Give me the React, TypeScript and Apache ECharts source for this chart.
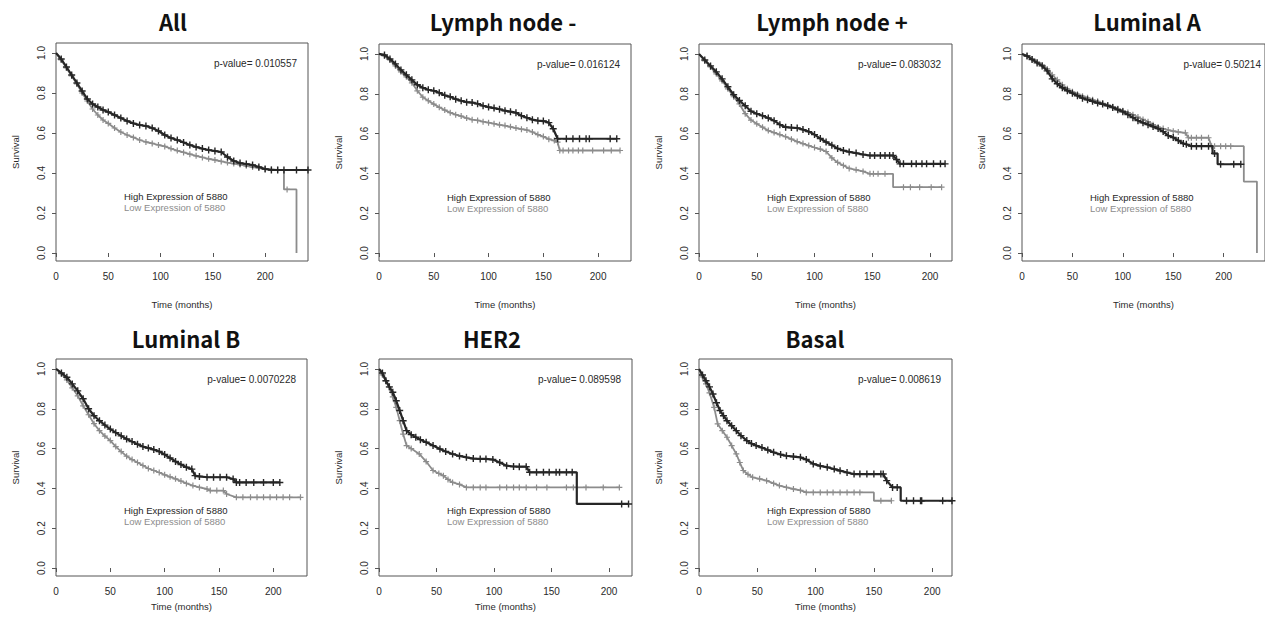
import React, { useEffect, useRef } from "react";
import * as echarts from "echarts";

// ---------- data (time in months, survival probability) ----------
const titles = ["All", "Lymph node -", "Lymph node +", "Luminal A", "Luminal B", "HER2", "Basal"];
const pValues = ["0.010557", "0.016124", "0.083032", "0.50214", "0.0070228", "0.089598", "0.008619"];
const legendHigh = "High Expression of 5880";
const legendLow = "Low Expression of 5880";
const xTicks = [0, 50, 100, 150, 200];
const yTicks = [0, 0.2, 0.4, 0.6, 0.8, 1.0];

const allHigh = [[0,1],[5,0.97],[10,0.93],[15,0.89],[20,0.85],[25,0.81],[30,0.77],[35,0.745],[40,0.73],[45,0.715],[50,0.705],[56,0.69],[62,0.675],[68,0.66],[74,0.648],[80,0.64],[86,0.635],[92,0.625],[98,0.61],[104,0.59],[110,0.575],[116,0.565],[122,0.553],[128,0.54],[134,0.53],[140,0.522],[146,0.515],[152,0.51],[158,0.505],[164,0.48],[170,0.46],[176,0.45],[182,0.445],[188,0.44],[194,0.43],[200,0.42],[206,0.415],[212,0.415],[218,0.415],[230,0.415],[241,0.415]];
const allLow = [[0,1],[5,0.965],[10,0.925],[15,0.885],[20,0.845],[25,0.8],[30,0.76],[35,0.72],[40,0.69],[45,0.665],[50,0.648],[56,0.625],[62,0.605],[68,0.59],[74,0.578],[80,0.565],[86,0.555],[92,0.548],[98,0.54],[104,0.533],[110,0.522],[116,0.512],[122,0.503],[128,0.494],[134,0.486],[140,0.478],[146,0.471],[152,0.465],[158,0.458],[164,0.452],[170,0.447],[176,0.442],[182,0.436],[188,0.43],[194,0.425],[200,0.42],[206,0.418],[212,0.416],[218,0.415],[218,0.318],[221,0.318],[230,0.318],[230,0]];

const lnNegHigh = [[0,1],[5,0.995],[10,0.975],[15,0.95],[20,0.92],[25,0.895],[30,0.87],[35,0.845],[40,0.83],[45,0.82],[50,0.815],[55,0.805],[60,0.792],[65,0.785],[70,0.773],[75,0.765],[80,0.758],[85,0.756],[90,0.75],[95,0.74],[100,0.733],[105,0.728],[110,0.722],[115,0.715],[120,0.71],[125,0.705],[130,0.69],[135,0.68],[140,0.67],[145,0.665],[150,0.663],[155,0.655],[159,0.624],[163,0.574],[171,0.574],[177,0.574],[183,0.574],[189,0.574],[192,0.574],[211,0.574],[217,0.574]];
const lnNegLow = [[0,1],[5,0.99],[10,0.97],[15,0.94],[20,0.91],[25,0.885],[30,0.855],[35,0.815],[40,0.783],[45,0.765],[50,0.748],[55,0.732],[60,0.718],[65,0.705],[70,0.695],[75,0.688],[80,0.678],[85,0.67],[90,0.666],[95,0.66],[100,0.655],[105,0.65],[110,0.644],[115,0.64],[120,0.634],[125,0.628],[130,0.622],[135,0.618],[140,0.608],[145,0.595],[150,0.585],[155,0.572],[160,0.565],[163,0.557],[165,0.515],[168,0.515],[173,0.515],[177,0.515],[182,0.515],[186,0.515],[195,0.515],[205,0.515],[212,0.515],[220,0.515]];

const lnPosHigh = [[0,1],[5,0.97],[10,0.94],[15,0.91],[20,0.875],[25,0.835],[30,0.795],[35,0.766],[40,0.74],[45,0.712],[50,0.7],[55,0.69],[60,0.678],[65,0.665],[70,0.645],[75,0.632],[80,0.63],[85,0.628],[90,0.62],[95,0.61],[100,0.595],[105,0.575],[110,0.558],[115,0.542],[120,0.525],[125,0.515],[130,0.508],[136,0.502],[142,0.495],[148,0.49],[152,0.49],[157,0.49],[161,0.49],[165,0.49],[168,0.49],[171,0.47],[174,0.448],[177,0.448],[184,0.448],[188,0.448],[193,0.448],[197,0.448],[203,0.448],[209,0.448],[213,0.448]];
const lnPosLow = [[0,1],[5,0.965],[10,0.935],[15,0.9],[20,0.865],[25,0.825],[30,0.785],[35,0.749],[40,0.7],[45,0.668],[50,0.649],[55,0.632],[60,0.615],[65,0.605],[70,0.595],[75,0.584],[80,0.572],[85,0.56],[90,0.55],[95,0.54],[100,0.53],[105,0.522],[110,0.51],[115,0.478],[120,0.455],[125,0.44],[130,0.425],[136,0.418],[142,0.41],[148,0.398],[151,0.398],[155,0.398],[161,0.398],[168,0.398],[168,0.331],[177,0.331],[183,0.331],[191,0.331],[201,0.331],[210,0.331]];

const lumAHigh = [[0,1],[5,0.99],[10,0.972],[15,0.955],[20,0.94],[25,0.915],[30,0.875],[35,0.85],[40,0.83],[45,0.815],[50,0.803],[55,0.79],[60,0.778],[65,0.77],[70,0.762],[75,0.754],[80,0.748],[85,0.74],[90,0.731],[95,0.72],[100,0.71],[105,0.695],[110,0.68],[115,0.665],[120,0.654],[125,0.645],[130,0.635],[135,0.625],[140,0.61],[145,0.59],[150,0.58],[155,0.565],[160,0.55],[163,0.546],[168,0.537],[173,0.537],[178,0.537],[185,0.537],[189,0.537],[189,0.5],[191,0.5],[194,0.5],[194,0.446],[197,0.446],[210,0.446],[217,0.446]];
const lumALow = [[0,1],[5,0.99],[10,0.975],[15,0.96],[20,0.945],[25,0.925],[30,0.895],[35,0.87],[40,0.845],[45,0.825],[50,0.81],[55,0.798],[60,0.788],[65,0.78],[70,0.77],[75,0.762],[80,0.752],[85,0.744],[90,0.735],[95,0.725],[100,0.715],[105,0.706],[110,0.695],[115,0.683],[120,0.671],[125,0.66],[130,0.645],[135,0.633],[140,0.625],[145,0.618],[150,0.612],[155,0.608],[162,0.604],[165,0.579],[168,0.579],[173,0.579],[178,0.579],[185,0.579],[188,0.537],[191,0.537],[197,0.537],[202,0.537],[207,0.537],[220,0.537],[220,0.359],[233,0.359],[233,0]];

const lumBHigh = [[0,1],[5,0.98],[10,0.958],[15,0.925],[20,0.89],[25,0.85],[30,0.8],[35,0.765],[40,0.74],[45,0.718],[50,0.698],[55,0.68],[60,0.664],[65,0.648],[70,0.635],[75,0.622],[80,0.61],[85,0.603],[90,0.595],[95,0.585],[100,0.57],[105,0.553],[110,0.535],[115,0.52],[120,0.506],[125,0.497],[128,0.464],[132,0.46],[139,0.456],[145,0.456],[151,0.456],[157,0.456],[163,0.447],[166,0.43],[169,0.43],[175,0.43],[182,0.43],[191,0.43],[200,0.43],[206,0.43]];
const lumBLow = [[0,1],[5,0.975],[10,0.945],[15,0.905],[20,0.865],[25,0.815],[30,0.77],[35,0.725],[40,0.69],[45,0.663],[50,0.64],[55,0.61],[60,0.585],[65,0.562],[70,0.545],[75,0.53],[80,0.515],[85,0.5],[90,0.49],[95,0.48],[100,0.468],[105,0.458],[110,0.448],[115,0.437],[120,0.425],[126,0.414],[132,0.405],[139,0.397],[142,0.389],[148,0.389],[154,0.389],[157,0.372],[166,0.355],[172,0.355],[179,0.355],[185,0.355],[191,0.355],[197,0.355],[203,0.355],[209,0.355],[215,0.355],[225,0.355]];

const her2High = [[0,1],[3,0.98],[6,0.941],[9,0.91],[12,0.883],[15,0.84],[18,0.791],[21,0.74],[24,0.69],[28,0.67],[32,0.657],[36,0.645],[41,0.632],[47,0.615],[53,0.598],[58,0.585],[64,0.573],[70,0.563],[76,0.556],[82,0.55],[88,0.548],[93,0.548],[99,0.545],[105,0.53],[111,0.514],[117,0.51],[122,0.509],[128,0.509],[131,0.481],[137,0.481],[143,0.481],[148,0.481],[154,0.481],[157,0.481],[163,0.481],[168,0.481],[172,0.481],[172,0.322],[211,0.322],[217,0.322]];
const her2Low = [[0,1],[3,0.97],[6,0.94],[9,0.908],[12,0.86],[15,0.807],[18,0.74],[21,0.673],[24,0.615],[28,0.6],[35,0.573],[41,0.535],[47,0.49],[52,0.475],[56,0.464],[60,0.445],[64,0.43],[70,0.42],[76,0.405],[82,0.405],[88,0.405],[93,0.405],[105,0.405],[111,0.405],[117,0.405],[122,0.405],[128,0.405],[137,0.405],[146,0.405],[163,0.405],[169,0.405],[180,0.405],[195,0.405],[209,0.405]];

const basalHigh = [[0,1],[3,0.97],[6,0.941],[9,0.91],[12,0.874],[15,0.83],[18,0.791],[21,0.765],[24,0.74],[28,0.715],[32,0.69],[36,0.665],[41,0.64],[45,0.625],[49,0.615],[54,0.605],[59,0.593],[64,0.581],[70,0.57],[75,0.564],[81,0.56],[87,0.556],[92,0.545],[98,0.523],[104,0.513],[110,0.506],[116,0.497],[121,0.489],[127,0.48],[133,0.472],[138,0.472],[144,0.472],[150,0.472],[156,0.472],[158,0.472],[161,0.439],[166,0.405],[170,0.405],[173,0.405],[173,0.338],[178,0.338],[184,0.338],[190,0.338],[191,0.338],[209,0.338],[217,0.338]];
const basalLow = [[0,1],[3,0.96],[6,0.925],[9,0.88],[13,0.807],[16,0.724],[20,0.69],[24,0.657],[28,0.615],[32,0.573],[35,0.53],[38,0.49],[42,0.47],[46,0.456],[52,0.448],[58,0.439],[64,0.425],[69,0.414],[75,0.405],[81,0.397],[87,0.39],[92,0.38],[98,0.38],[104,0.38],[110,0.38],[115,0.38],[121,0.38],[127,0.38],[133,0.38],[138,0.38],[150,0.38],[150,0.338],[156,0.338],[165,0.338]];

const highSeries = [allHigh, lnNegHigh, lnPosHigh, lumAHigh, lumBHigh, her2High, basalHigh];
const lowSeries = [allLow, lnNegLow, lnPosLow, lumALow, lumBLow, her2Low, basalLow];

// ---------- layout ----------
const PANELS = [
  { left: 56, top: 43, right: 308, bottom: 261, xMax: 241, tx: 173, ty: 21, gap: 38 },
  { left: 379, top: 44, right: 631, bottom: 261, xMax: 230, tx: 503, ty: 21, gap: 38 },
  { left: 699, top: 44, right: 952, bottom: 261, xMax: 219, tx: 832, ty: 21, gap: 38 },
  { left: 1022, top: 44, right: 1272, bottom: 261, xMax: 241, tx: 1147, ty: 21, gap: 38 },
  { left: 56, top: 359, right: 307, bottom: 576, xMax: 231, tx: 186, ty: 338, gap: 25 },
  { left: 379, top: 359, right: 632, bottom: 576, xMax: 220, tx: 492, ty: 338, gap: 25 },
  { left: 699, top: 359, right: 952, bottom: 576, xMax: 217, tx: 815, ty: 338, gap: 25 },
];

const DARK = "#262626";
const GREY = "#8c8c8c";
const TXT = "#2a2a2a";
const SANS = "'Liberation Sans', Arial, sans-serif";
const PLUS = "path://M0,5L10,5M5,0L5,10";

function toData(pts: number[][]) {
  return pts.map((p, i) => {
    const prev = pts[i - 1];
    const next = pts[i + 1];
    const hide = p[0] === 0 || (prev && prev[0] === p[0]) || (next && next[0] === p[0]);
    return hide ? { value: p, symbol: "none" } : { value: p };
  });
}

function buildOption() {
  const grid: any[] = [];
  const xAxis: any[] = [];
  const yAxis: any[] = [];
  const series: any[] = [];
  const graphic: any[] = [];

  PANELS.forEach((p, i) => {
    grid.push({
      left: p.left,
      top: p.top,
      width: p.right - p.left,
      height: p.bottom - p.top,
      show: true,
      borderColor: "#555",
      borderWidth: 1,
      containLabel: false,
    });
    xAxis.push({
      type: "value",
      gridIndex: i,
      min: 0,
      max: p.xMax,
      name: "Time (months)",
      nameLocation: "middle",
      nameGap: p.gap,
      nameTextStyle: { fontFamily: SANS, fontSize: 9.5, color: TXT },
      axisLine: { show: false },
      splitLine: { show: false },
      axisTick: { show: true, length: 4, customValues: xTicks, lineStyle: { color: "#555" } },
      axisLabel: { customValues: xTicks, fontFamily: SANS, fontSize: 10, color: TXT, margin: 10 },
    });
    yAxis.push({
      type: "value",
      gridIndex: i,
      min: -0.04,
      max: 1.05,
      name: "Survival",
      nameLocation: "middle",
      nameGap: 36,
      nameTextStyle: { fontFamily: SANS, fontSize: 9.5, color: TXT },
      axisLine: { show: false },
      splitLine: { show: false },
      axisTick: { show: true, length: 4, customValues: yTicks, lineStyle: { color: "#555" } },
      axisLabel: {
        customValues: yTicks,
        rotate: 90,
        fontFamily: SANS,
        fontSize: 10,
        color: TXT,
        margin: 10,
        formatter: (v: number) => v.toFixed(1),
      },
    });
    series.push({
      type: "line",
      name: "low-" + i,
      xAxisIndex: i,
      yAxisIndex: i,
      data: toData(lowSeries[i]),
      symbol: PLUS,
      symbolSize: 6,
      showSymbol: true,
      lineStyle: { color: GREY, width: 1.8 },
      itemStyle: { color: "transparent", borderColor: GREY, borderWidth: 1.2 },
      z: 2,
    });
    series.push({
      type: "line",
      name: "high-" + i,
      xAxisIndex: i,
      yAxisIndex: i,
      data: toData(highSeries[i]),
      symbol: PLUS,
      symbolSize: 7,
      showSymbol: true,
      lineStyle: { color: DARK, width: 2.2 },
      itemStyle: { color: "transparent", borderColor: DARK, borderWidth: 1.4 },
      z: 3,
    });

    graphic.push({
      type: "text",
      x: p.tx,
      y: p.ty,
      style: {
        text: titles[i],
        fill: "#111",
        fontFamily: "'Noto Sans CJK KR', 'Noto Sans', sans-serif",
        fontWeight: "bold",
        fontSize: 22,
        align: "center",
        verticalAlign: "middle",
        textAlign: "center",
        textVerticalAlign: "middle",
      },
    });
    graphic.push({
      type: "text",
      x: p.right - 11,
      y: p.top + 20,
      style: {
        text: "p-value= " + pValues[i],
        fill: TXT,
        fontFamily: SANS,
        fontSize: 10,
        align: "right",
        verticalAlign: "middle",
        textAlign: "right",
        textVerticalAlign: "middle",
      },
    });
    const ly = p.top + (i < 4 ? 153 : 151);
    graphic.push({
      type: "text",
      x: p.left + 68,
      y: ly,
      style: {
        text: legendHigh,
        fill: DARK,
        fontFamily: SANS,
        fontSize: 9.5,
        align: "left",
        verticalAlign: "middle",
        textAlign: "left",
        textVerticalAlign: "middle",
      },
    });
    graphic.push({
      type: "text",
      x: p.left + 68,
      y: ly + 11,
      style: {
        text: legendLow,
        fill: GREY,
        fontFamily: SANS,
        fontSize: 9.5,
        align: "left",
        verticalAlign: "middle",
        textAlign: "left",
        textVerticalAlign: "middle",
      },
    });
  });

  return {
    animation: false,
    backgroundColor: "#ffffff",
    grid,
    xAxis,
    yAxis,
    series,
    graphic,
  };
}

export default function App() {
  const ref = useRef<HTMLDivElement>(null);
  useEffect(() => {
    if (!ref.current) return;
    const chart = echarts.init(ref.current, null, { renderer: "svg" });
    chart.setOption(buildOption() as any);
    return () => chart.dispose();
  }, []);
  return (
    <div
      ref={ref}
      style={{ position: "absolute", left: 0, top: 0, width: 1265, height: 622, background: "#fff" }}
    />
  );
}
